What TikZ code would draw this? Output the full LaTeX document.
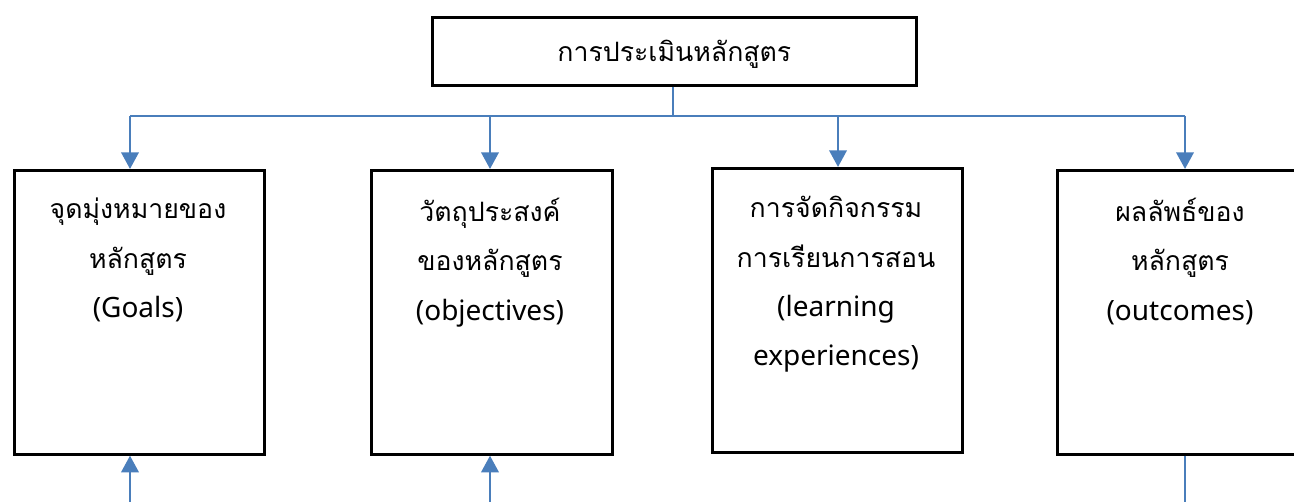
\documentclass[tikz,border=0pt]{standalone}
\usepackage{fontspec}
\setmainfont{Noto Sans}
\newfontfamily\thai[Script=Thai]{Loma}
\usetikzlibrary{arrows.meta}
\definecolor{conn}{HTML}{4A7EBB}
\newcommand{\thline}[1]{{\thai\fontsize{20}{37}\selectfont #1}}
\begin{document}
\begin{tikzpicture}[x=0.75pt,y=-0.75pt,
  box/.style={draw=black,line width=2pt,rectangle,inner sep=0pt,anchor=north west},
  lbl/.style={anchor=north,align=center,inner sep=0pt,font=\fontsize{21}{37}\selectfont},
  link/.style={draw=conn,line width=2pt},
  arr/.style={link,-{Triangle[length=12.5pt,width=13pt]}}]
\useasboundingbox (0,0) rectangle (1294,502);
\clip (0,0) rectangle (1294,502);
% top box
\node[box,minimum width=484*0.75pt,minimum height=68*0.75pt] (top) at (431,16) {};
\node[anchor=center,inner sep=0pt,font=\fontsize{20}{24}\selectfont] (ttop) at ([yshift=-3*0.75pt]top.center) {\thai การประเมินหลักสูตร};
% boxes
\node[box,minimum width=250*0.75pt,minimum height=284*0.75pt] (b1) at (13,169) {};
\node[box,minimum width=241*0.75pt,minimum height=284*0.75pt] (b2) at (370,169) {};
\node[box,minimum width=250*0.75pt,minimum height=284*0.75pt] (b3) at (711,167) {};
\node[box,minimum width=258*0.75pt,minimum height=284*0.75pt] (b4) at (1056,169) {};
% labels
\node[lbl] (t1) at (138,198) {\thline{จุดมุ่งหมายของ}\\\thline{หลักสูตร}\\(Goals)};
\node[lbl] (t2) at (490,198) {\thline{วัตถุประสงค์}\\\thline{ของหลักสูตร}\\(objectives)};
\node[lbl] (t3) at (836,196) {\thline{การจัดกิจกรรม}\\\thline{การเรียนการสอน}\\(learning\\experiences)};
\node[lbl] (t4) at (1180,198) {\thline{ผลลัพธ์ของ}\\\thline{หลักสูตร}\\(outcomes)};
% connectors
\coordinate (hub) at (673,116);
\coordinate (hl) at (130,116);
\coordinate (hr) at (1185,116);
\draw[link] (top.south -| hub) -- (hub);
\draw[link] (hl) -- (hr);
\draw[arr] (hl) -- (hl |- b1.north);
\draw[arr] (490,116) -- (b2.north -| 490,0);
\draw[arr] (838,116) -- (b3.north -| 838,0);
\draw[arr] (hr) -- (hr |- b4.north);
\coordinate (f1) at (130,502);
\coordinate (f2) at (490,502);
\coordinate (f4) at (1185,502);
\draw[arr] (f1) -- (f1 |- b1.south);
\draw[arr] (f2) -- (f2 |- b2.south);
\draw[link] (f4 |- b4.south) -- (f4);
\end{tikzpicture}
\end{document}
